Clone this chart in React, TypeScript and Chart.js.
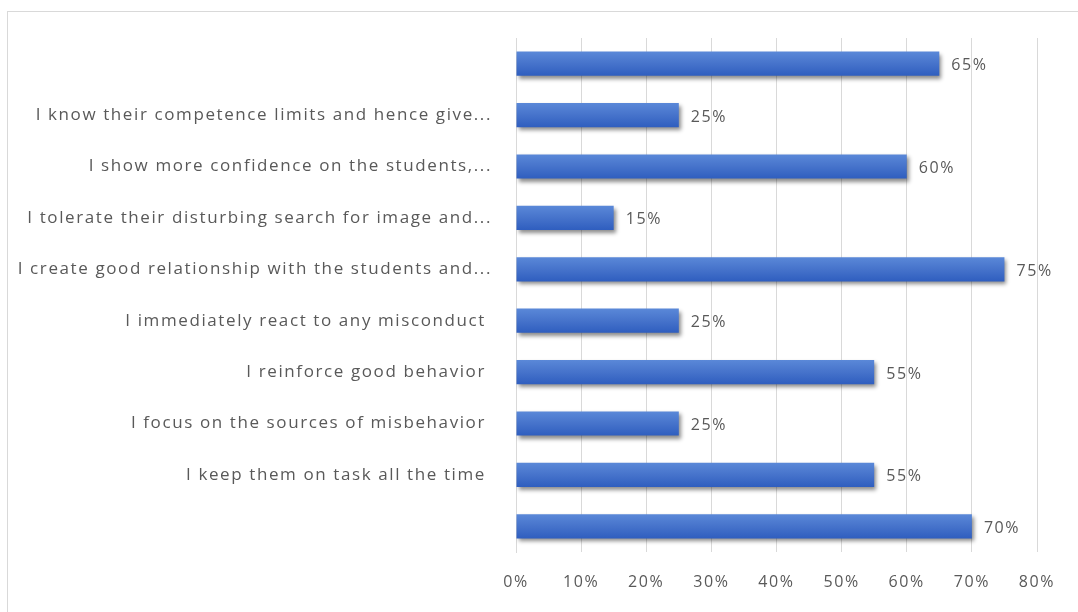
import React, { useEffect, useRef } from "react";
import { Chart, registerables } from "chart.js";

Chart.register(...registerables);

const categories: string[] = [
  "",
  "I know their competence limits and hence give...",
  "I show more confidence on the students,...",
  "I tolerate their disturbing search for image and...",
  "I create good relationship with the students and...",
  "I immediately react to any misconduct ",
  "I reinforce good behavior ",
  "I focus on the sources of misbehavior ",
  "I keep them on task all the time ",
  "",
];

const values: number[] = [65, 25, 60, 15, 75, 25, 55, 25, 55, 70];

const xTicks: number[] = [0, 10, 20, 30, 40, 50, 60, 70, 80];

const FONT = "'Open Sans'";
const TEXT = "#595959";
const SPACING = "1.6px";

export default function App() {
  const ref = useRef<HTMLCanvasElement | null>(null);

  useEffect(() => {
    document.body.style.margin = "0";
    const canvas = ref.current;
    if (!canvas) return;

    const spacingPlugin = {
      id: "letterSpacing",
      beforeDraw(chart: any) {
        (chart.ctx as any).letterSpacing = SPACING;
      },
    };

    const shadowPlugin = {
      id: "barShadow",
      beforeDatasetsDraw(chart: any) {
        const ctx = chart.ctx;
        ctx.save();
        ctx.shadowColor = "rgba(0,0,0,0.45)";
        ctx.shadowBlur = 4;
        ctx.shadowOffsetX = 2;
        ctx.shadowOffsetY = 3;
      },
      afterDatasetsDraw(chart: any) {
        chart.ctx.restore();
      },
    };

    const labelPlugin = {
      id: "valueLabels",
      afterDatasetsDraw(chart: any) {
        const ctx = chart.ctx;
        const meta = chart.getDatasetMeta(0);
        ctx.save();
        ctx.font = `16px ${FONT}`;
        ctx.fillStyle = TEXT;
        ctx.textAlign = "left";
        ctx.textBaseline = "middle";
        meta.data.forEach((el: any, i: number) => {
          ctx.fillText(`${values[i]}%`, el.x + 12, el.y + 2);
        });
        ctx.restore();
      },
    };

    const chart = new Chart(canvas, {
      type: "bar",
      data: {
        labels: categories,
        datasets: [
          {
            data: values,
            backgroundColor: (c: any) => {
              const ch = c.chart;
              const ys = ch.scales?.y;
              if (!ys || c.dataIndex === undefined) return "#4472c4";
              const y = ys.getPixelForValue(c.dataIndex);
              if (!Number.isFinite(y)) return "#4472c4";
              const g = ch.ctx.createLinearGradient(0, y - 12, 0, y + 12);
              g.addColorStop(0, "#5a88d8");
              g.addColorStop(0.5, "#4673cb");
              g.addColorStop(1, "#2f5ebf");
              return g;
            },
            borderWidth: 0,
            categoryPercentage: 0.47,
            barPercentage: 1,
          },
        ],
      },
      options: {
        indexAxis: "y",
        animation: false,
        responsive: false,
        maintainAspectRatio: false,
        layout: { padding: { left: 0, right: 41, top: 38, bottom: 0 } },
        plugins: {
          legend: { display: false },
          tooltip: { enabled: false },
        },
        scales: {
          x: {
            min: 0,
            max: 80,
            afterBuildTicks: (axis: any) => {
              axis.ticks = xTicks.map((v) => ({ value: v }));
            },
            afterFit: (axis: any) => {
              axis.height = 60;
            },
            grid: { color: "#d9d9d9", drawTicks: false },
            border: { display: false },
            ticks: {
              padding: 21,
              color: TEXT,
              font: { family: FONT, size: 16 },
              callback: (v: any) => `${v}%`,
            },
          },
          y: {
            afterFit: (axis: any) => {
              axis.width = 516;
            },
            grid: { display: false, drawTicks: false },
            border: { display: true, color: "#d9d9d9" },
            ticks: {
              padding: 24,
              color: TEXT,
              font: { family: FONT, size: 17 },
              autoSkip: false,
            },
          },
        },
      },
      plugins: [spacingPlugin, shadowPlugin, labelPlugin],
    });

    return () => chart.destroy();
  }, []);

  return (
    <div style={{ position: "fixed", left: 0, top: 0, width: 1078, height: 612, background: "#fff", overflow: "hidden" }}>
      <div
        style={{
          position: "absolute",
          left: 7,
          top: 11,
          width: 1090,
          height: 620,
          border: "1px solid #d9d9d9",
          boxSizing: "border-box",
        }}
      />
      <canvas ref={ref} width={1078} height={612} style={{ position: "absolute", left: 0, top: 0, width: 1078, height: 612 }} />
    </div>
  );
}
